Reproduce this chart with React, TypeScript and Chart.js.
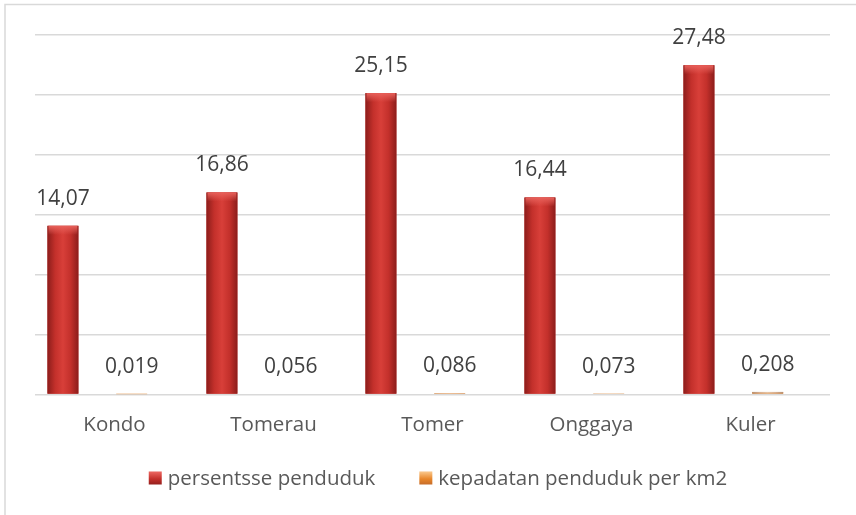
import React, { useEffect, useRef } from "react";
import { Chart, registerables } from "chart.js";

Chart.register(...registerables);

const categories = ["Kondo", "Tomerau", "Tomer", "Onggaya", "Kuler"];
const persentasePenduduk = [14.07, 16.86, 25.15, 16.44, 27.48];
const kepadatanPenduduk = [0.019, 0.056, 0.086, 0.073, 0.208];
// empty slots so the two bars sit where Excel put them in each category
const emptySlot = [null, null, null, null, null];
const seriesNames = ["persentsse penduduk", "kepadatan penduduk per km2"];

const fmt = (v: number) => String(v).replace(".", ",");

const framePlugin = {
  id: "frame",
  beforeDraw(chart: any) {
    const ctx = chart.ctx;
    ctx.save();
    ctx.fillStyle = "#ffffff";
    ctx.fillRect(0, 0, chart.width, chart.height);
    ctx.strokeStyle = "#d9d9d9";
    ctx.lineWidth = 1.5;
    ctx.strokeRect(5, 4.5, chart.width + 50, chart.height + 50);
    ctx.restore();
  },
};

const SHADES: Record<number, string[]> = {
  0: ["#8c1d1b", "#c3302b", "#d83f39", "#c3302b", "#8c1d1b", "#e8615b"],
  2: ["#c0682a", "#e8862a", "#f5a040", "#e8862a", "#c0682a", "#f8c080"],
};
const BAR_SHADES: Record<number, string[]> = {
  0: SHADES[0],
  2: ["#b89070", "#d8b090", "#e6c4a4", "#d8b090", "#b89070", "#f0d8c0"],
};

const barShadePlugin = {
  id: "barShade",
  afterDatasetsDraw(chart: any) {
    const ctx = chart.ctx;
    [0, 2].forEach((di) => {
      const meta = chart.getDatasetMeta(di);
      const s = BAR_SHADES[di];
      meta.data.forEach((el: any) => {
        const { x, y, base, width } = el.getProps(["x", "y", "base", "width"], true);
        const left = x - width / 2;
        const h = base - y;
        if (h <= 0) return;
        const g = ctx.createLinearGradient(left, 0, left + width, 0);
        g.addColorStop(0, s[0]);
        g.addColorStop(0.25, s[1]);
        g.addColorStop(0.5, s[2]);
        g.addColorStop(0.75, s[3]);
        g.addColorStop(1, s[4]);
        ctx.save();
        ctx.fillStyle = g;
        ctx.fillRect(left, y, width, h);
        if (h > 10) {
          const cap = ctx.createLinearGradient(0, y, 0, y + 9);
          cap.addColorStop(0, s[5]);
          cap.addColorStop(1, "rgba(232,97,91,0)");
          ctx.fillStyle = cap;
          ctx.fillRect(left + 1, y, width - 2, 9);
        }
        ctx.restore();
      });
    });
  },
};

const valueLabelPlugin = {
  id: "valueLabels",
  afterDatasetsDraw(chart: any) {
    const ctx = chart.ctx;
    ctx.save();
    ctx.font = '21px "Open Sans"';
    ctx.fillStyle = "#404040";
    ctx.textAlign = "center";
    ctx.textBaseline = "middle";
    [0, 2].forEach((di) => {
      const meta = chart.getDatasetMeta(di);
      const data = chart.data.datasets[di].data;
      meta.data.forEach((el: any, i: number) => {
        const { x, y } = el.getProps(["x", "y"], true);
        ctx.fillText(fmt(data[i]), x, y - 27);
      });
    });
    ctx.restore();
  },
};

// legend drawn below the axis, Excel style
const legendPlugin = {
  id: "excelLegend",
  afterDraw(chart: any) {
    const ctx = chart.ctx;
    ctx.save();
    ctx.font = '20.5px "Open Sans"';
    ctx.textBaseline = "middle";
    ctx.textAlign = "left";
    const box = 13;
    const gapText = 6;
    const gapItem = 44;
    const items = [0, 2].map((di) => ({
      di,
      text: chart.data.datasets[di].label as string,
    }));
    const widths = items.map((it) => box + gapText + ctx.measureText(it.text).width);
    const total = widths.reduce((a, b) => a + b, 0) + gapItem * (items.length - 1);
    const cy = 479;
    let x = 438 - total / 2;
    items.forEach((it, k) => {
      const s = SHADES[it.di];
      const g = ctx.createLinearGradient(0, cy - box / 2, 0, cy + box / 2);
      g.addColorStop(0, s[5]);
      g.addColorStop(0.5, s[1]);
      g.addColorStop(1, s[0]);
      ctx.fillStyle = g;
      ctx.fillRect(x, cy - box / 2 - 1, box, box);
      ctx.fillStyle = "#595959";
      ctx.fillText(it.text, x + box + gapText, cy);
      x += widths[k] + gapItem;
    });
    ctx.restore();
  },
};

export default function App() {
  const ref = useRef<HTMLCanvasElement | null>(null);

  useEffect(() => {
    document.body.style.margin = "0";
    const canvas = ref.current!;
    const chart = new Chart(canvas, {
      type: "bar",
      data: {
        labels: categories,
        datasets: [
          { label: seriesNames[0], data: persentasePenduduk, backgroundColor: "#c3302b" },
          { label: "", data: emptySlot as any, backgroundColor: "transparent" },
          { label: seriesNames[1], data: kepadatanPenduduk, backgroundColor: "#e07b1e" },
          { label: "", data: emptySlot as any, backgroundColor: "transparent" },
        ],
      },
      options: {
        responsive: false,
        animation: false,
        devicePixelRatio: 1,
        datasets: {
          bar: { categoryPercentage: 0.865, barPercentage: 0.9 },
        },
        layout: { padding: { left: 35, right: 26, top: 35, bottom: 60 } },
        scales: {
          x: {
            grid: { display: false, drawTicks: false },
            border: { display: false },
            ticks: {
              color: "#595959",
              font: { family: "Open Sans", size: 20.5 },
              padding: 18,
            },
          },
          y: {
            min: 0,
            max: 30,
            ticks: { display: false, stepSize: 5 },
            grid: { color: "#d9d9d9", lineWidth: 1.5, drawTicks: false },
            border: { display: false },
          },
        },
        plugins: {
          legend: { display: false },
          tooltip: { enabled: false },
        },
      },
      plugins: [framePlugin, barShadePlugin, valueLabelPlugin, legendPlugin],
    });
    return () => chart.destroy();
  }, []);

  return (
    <div style={{ position: "absolute", left: 0, top: 0, width: 856, height: 515 }}>
      <canvas ref={ref} width={856} height={515} style={{ width: 856, height: 515 }} />
    </div>
  );
}
